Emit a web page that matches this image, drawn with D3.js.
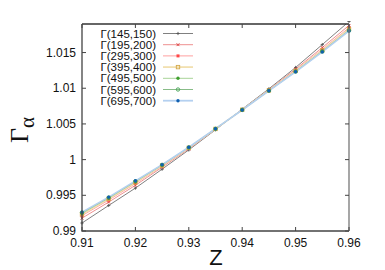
<!DOCTYPE html>
<html><head><meta charset="utf-8">
<script src="https://cdn.jsdelivr.net/npm/d3@7"></script>
<style>body{margin:0;background:#fff}svg{display:block}</style>
</head><body><svg id="c" width="385" height="270"></svg>
<script>
const zValues = [0.91,0.915,0.92,0.925,0.93,0.935,0.94,0.945,0.95,0.955,0.96];
const seriesNames = ["Γ(145,150)","Γ(195,200)","Γ(295,300)","Γ(395,400)","Γ(495,500)","Γ(595,600)","Γ(695,700)"];
const g145 = [0.99112,0.99358,0.99601,0.99866,1.00136,1.00418,1.00708,1.00992,1.01291,1.01612,1.01935];
const g195 = [0.99180,0.99405,0.99640,0.99893,1.00150,1.00424,1.00702,1.00980,1.01268,1.01570,1.01880];
const g295 = [0.99215,0.99433,0.99665,0.99908,1.00160,1.00428,1.00700,1.00973,1.01252,1.01545,1.01848];
const g395 = [0.99235,0.99450,0.99680,0.99917,1.00165,1.00430,1.00698,1.00969,1.01243,1.01530,1.01828];
const g495 = [0.99248,0.99461,0.99690,0.99923,1.00169,1.00431,1.00697,1.00966,1.01237,1.01520,1.01815];
const g595 = [0.99258,0.99469,0.99697,0.99927,1.00171,1.00432,1.00696,1.00965,1.01233,1.01514,1.01807];
const g695 = [0.99265,0.99475,0.99703,0.99930,1.00173,1.00433,1.00695,1.00964,1.01230,1.01509,1.01802];
const xTicks = [0.91,0.92,0.93,0.94,0.95,0.96];
const yTicks = [0.99,0.995,1,1.005,1.01,1.015];
const yTickLabels = ["0.99","0.995","1","1.005","1.01","1.015"];
const xTickLabels = ["0.91","0.92","0.93","0.94","0.95","0.96"];

const allSeries = [g145,g195,g295,g395,g495,g595,g695];
const lineColors = ["#808080","#ee9090","#ffa0a0","#f2e0b0","#a8d498","#88bc88","#b4d0f0"];
const markColors = ["#555555","#dd4444","#ff4848","#d4a84a","#40a030","#40a050","#1060b0"];
const markers = ["plus","cross","square","osquare","circle","ocircle","circle"];

const svg = d3.select("#c");
const L=82,R=349,T=24,B=231;
const x = d3.scaleLinear().domain([0.91,0.96]).range([L,R]);
const y = d3.scaleLinear().domain([0.99,1.019]).range([B,T]);
const font = "Liberation Sans, Arial, sans-serif";

svg.append("clipPath").attr("id","cp").append("rect").attr("x",L).attr("y",T).attr("width",R-L).attr("height",B-T);
svg.append("clipPath").attr("id","cpm").append("rect").attr("x",L-3).attr("y",T-3).attr("width",R-L+6).attr("height",B-T+6);

function drawMarker(g, type, cx, cy, col){
  if(type==="plus"){
    g.append("path").attr("d",`M${cx-1.6},${cy}H${cx+1.6}M${cx},${cy-1.6}V${cy+1.6}`).attr("stroke",col).attr("stroke-width",0.9);
  } else if(type==="cross"){
    g.append("path").attr("d",`M${cx-1.4},${cy-1.4}L${cx+1.4},${cy+1.4}M${cx-1.4},${cy+1.4}L${cx+1.4},${cy-1.4}`).attr("stroke",col).attr("stroke-width",1);
  } else if(type==="square"){
    g.append("rect").attr("x",cx-1.5).attr("y",cy-1.5).attr("width",3).attr("height",3).attr("fill",col);
  } else if(type==="osquare"){
    g.append("rect").attr("x",cx-1.7).attr("y",cy-1.7).attr("width",3.4).attr("height",3.4).attr("fill","none").attr("stroke",col).attr("stroke-width",0.9);
  } else if(type==="circle"){
    g.append("circle").attr("cx",cx).attr("cy",cy).attr("r",1.7).attr("fill",col);
  } else if(type==="ocircle"){
    g.append("circle").attr("cx",cx).attr("cy",cy).attr("r",1.7).attr("fill","none").attr("stroke",col).attr("stroke-width",0.9);
  }
}

const line = d3.line().x((d,i)=>x(zValues[i])).y(d=>y(d));
const plot = svg.append("g").attr("clip-path","url(#cp)");
allSeries.forEach((s,k)=>{
  plot.append("path").datum(s).attr("d",line).attr("fill","none").attr("stroke",lineColors[k]).attr("stroke-width", k===3||k===6?1.6:1);
});
const pm = svg.append("g").attr("clip-path","url(#cpm)");
allSeries.forEach((s,k)=>{
  s.forEach((v,i)=>drawMarker(pm, markers[k], x(zValues[i]), y(v), markColors[k]));
});

// frame
svg.append("path").attr("d",`M${L},${T}H${R}`).attr("stroke","#333").attr("stroke-width",1.3);
svg.append("path").attr("d",`M${L},${T}V${B}H${R}`).attr("fill","none").attr("stroke","#444").attr("stroke-width",1.3);
svg.append("path").attr("d",`M${R},${T}V${B}`).attr("stroke","#777").attr("stroke-width",1.3);

// ticks
const tk = svg.append("g").attr("stroke","#444").attr("stroke-width",1);
xTicks.forEach(t=>{
  tk.append("line").attr("x1",x(t)).attr("x2",x(t)).attr("y1",B).attr("y2",B-4);
  tk.append("line").attr("x1",x(t)).attr("x2",x(t)).attr("y1",T).attr("y2",T+4);
});
yTicks.forEach(t=>{
  tk.append("line").attr("x1",L).attr("x2",L+4).attr("y1",y(t)).attr("y2",y(t));
  tk.append("line").attr("x1",R).attr("x2",R-4).attr("y1",y(t)).attr("y2",y(t));
});
xTicks.forEach((t,i)=>{
  svg.append("text").attr("x",x(t)).attr("y",B+16).attr("text-anchor","middle").attr("font-family",font).attr("font-size",12).attr("fill","#111").text(xTickLabels[i]);
});
yTicks.forEach((t,i)=>{
  svg.append("text").attr("x",L-6).attr("y",y(t)+4).attr("text-anchor","end").attr("font-family",font).attr("font-size",12).attr("fill","#111").text(yTickLabels[i]);
});

// axis labels
svg.append("text").attr("x",216).attr("y",265).attr("text-anchor","middle").attr("font-family",font).attr("font-size",22).attr("fill","#111").text("Z");
const yl = svg.append("text").attr("transform","translate(28,143) rotate(-90)").attr("text-anchor","start").attr("font-family","Liberation Serif, Times New Roman, serif").attr("fill","#111");
yl.append("tspan").attr("font-size",26).text("Γ");
yl.append("tspan").attr("font-size",21).attr("dy",6).text("α");

// legend
const lg = svg.append("g");
seriesNames.forEach((n,k)=>{
  const yy = 33.5 + k*11.2;
  lg.append("text").attr("x",156).attr("y",yy+4).attr("text-anchor","end").attr("font-family",font).attr("font-size",11.5).attr("fill","#111").text(n);
  lg.append("line").attr("x1",163).attr("x2",193).attr("y1",yy).attr("y2",yy).attr("stroke",lineColors[k]).attr("stroke-width",k===3||k===6?1.8:1);
  drawMarker(lg, markers[k], 178, yy, markColors[k]);
});
</script></body></html>
